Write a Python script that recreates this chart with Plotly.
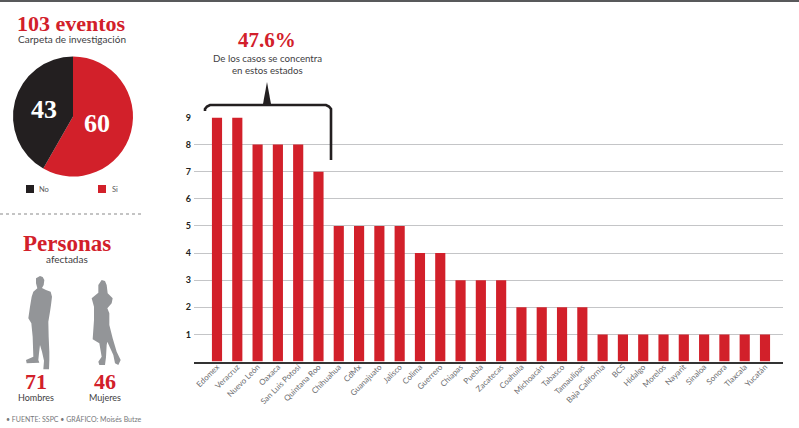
import plotly.graph_objects as go

W, H = 799, 428
states = ["Edomex","Veracruz","Nuevo León","Oaxaca","San Luis Potosí","Quintana Roo","Chihuahua","CdMx",
          "Guanajuato","Jalisco","Colima","Guerrero","Chiapas","Puebla","Zacatecas","Coahuila","Michoacán",
          "Tabasco","Tamaulipas","Baja California","BCS","Hidalgo","Morelos","Nayarit","Sinaloa","Sonora",
          "Tlaxcala","Yucatán"]
cases = [9,9,8,8,8,7,5,5,5,5,4,4,3,3,3,2,2,2,2,1,1,1,1,1,1,1,1,1]
pie_labels = ["Sí","No"]
pie_values = [60,43]
RED, BLACK, GRAY = "#d2202a", "#231f20", "#939598"
SERIF = "Liberation Serif"
SANS = "Lato"

def px(x): return x / W
def py(y): return 1 - y / H

fig = go.Figure()
fig.add_trace(go.Bar(x=list(range(28)), y=cases, marker=dict(color=RED, line_width=0), width=0.5,
                     hovertext=states, showlegend=False))
fig.add_trace(go.Pie(labels=pie_labels, values=pie_values, sort=False, direction="clockwise", rotation=0,
                     marker=dict(colors=[RED, BLACK], line_width=0), textinfo="none",
                     domain=dict(x=[px(13), px(133)], y=[py(177), py(56)]), showlegend=False))

spacing = (765 - 217) / 27
x0 = -(217 - 194) / spacing
x1 = (783 - 217) / spacing
fig.update_layout(
    width=W, height=H, margin=dict(l=0, r=0, t=0, b=0, autoexpand=False), paper_bgcolor="white", plot_bgcolor="white",
    bargap=0.5,
    xaxis=dict(domain=[px(194), px(783)], range=[x0, x1], tickmode="array", tickvals=list(range(28)),
               ticktext=states, tickangle=-45, tickfont=dict(family=SANS, size=8, color="#6d6e71"), automargin=False,
               ticklabelstandoff=-4, showgrid=False, zeroline=False, showline=True, linecolor="#333333", linewidth=1.5, ticks=""),
    yaxis=dict(domain=[py(361.5), py(117.5)], range=[0, 9], tickmode="array", tickvals=list(range(1, 10)), automargin=False,
               tickfont=dict(family=SANS, size=9, color=BLACK, weight="bold"), ticklabelstandoff=2,
               showgrid=True, gridcolor="#c4c5c7", gridwidth=1.2, zeroline=False, ticks="", showline=False),
)

def txt(x, y, s, size, color=BLACK, family=SANS, bold=False, anchor="center"):
    fig.add_annotation(xref="paper", yref="paper", x=px(x), y=py(y), text=s, showarrow=False, xanchor=anchor,
                       yanchor="middle", font=dict(family=family, size=size, color=color,
                                                   weight="bold" if bold else "normal"))

txt(71.5, 23.5, "103 eventos", 22, RED, SERIF, True)
txt(71.5, 39, "Carpeta de investigación", 10, "#414042")
txt(44, 110, str(pie_values[1]), 26, "white", SERIF, True)
txt(97, 124, str(pie_values[0]), 26, "white", SERIF, True)
txt(267, 40, "47.6%", 21, RED, SERIF, True)
txt(267, 58, "De los casos se concentra", 9.7, "#414042")
txt(267, 70, "en estos estados", 9.7, "#414042")
txt(67, 243, "Personas", 23, RED, SERIF, True)
txt(67, 259, "afectadas", 10, "#414042")
txt(36, 381, "71", 22, RED, SERIF, True)
txt(105, 381, "46", 22, RED, SERIF, True)
txt(36, 397, "Hombres", 9, "#414042")
txt(105, 397, "Mujeres", 9, "#414042")
txt(37, 189, "No", 7.5, "#58595b", anchor="left")
txt(110, 189, "Si", 7.5, "#58595b", anchor="left")
txt(4, 419, "• FUENTE: SSPC • GRÁFICO: Moisés Butze", 7, "#77787b", anchor="left")

def path(pts):
    return "M" + " L".join(f"{px(x):.5f},{py(y):.5f}" for x, y in pts) + " Z"

def shape(**kw):
    fig.add_shape(xref="paper", yref="paper", **kw)

shape(type="rect", x0=0, x1=1, y0=py(2), y1=1, fillcolor="#58595b", line_width=0)
shape(type="line", x0=0, x1=px(144), y0=py(214), y1=py(214), line=dict(color="#8a8a8a", width=1.2, dash="dot"))
shape(type="rect", x0=px(26), x1=px(34), y0=py(193), y1=py(185), fillcolor=BLACK, line_width=0)
shape(type="rect", x0=px(98), x1=px(106), y0=py(193), y1=py(185), fillcolor=RED, line_width=0)
# bracket
bracket = [(205,111),(205,109),(207,106.5),(210,105),(326,105),(329,106.5),(331,109),(331,160)]
fig.add_shape(type="path", xref="paper", yref="paper",
              path="M" + " L".join(f"{px(x):.5f},{py(y):.5f}" for x, y in bracket),
              line=dict(color=BLACK, width=2.6))
shape(type="path", path=path([(267,82),(263,104),(271,104)]), fillcolor=BLACK, line_width=0)

man = [(60,18),(68,21),(73,30),(71,45),(66,54),(78,60),(92,65),(96,80),(93,105),(90,125),(85,155),(86,200),(88,245),(88,270),(87,298),(70,298),(72,272),(66,245),(60,225),(57,250),(55,270),(58,278),(20,280),(18,270),(40,260),(38,200),(34,160),(25,145),(30,110),(35,80),(40,65),(52,55),(48,40),(48,25)]
woman = [(245,30),(255,33),(260,45),(263,70),(278,85),(275,100),(262,115),(268,130),(268,165),(278,205),(290,245),(302,270),(295,285),(285,280),(280,255),(262,215),(260,225),(258,262),(255,285),(238,285),(235,275),(245,260),(238,220),(218,208),(222,150),(222,110),(215,85),(235,68),(235,45)]
def zoomed(pts): return [(x / 3 + 20, y / 3 + 270) for x, y in pts]
shape(type="path", path=path(zoomed(man)), fillcolor=GRAY, line_width=0)
shape(type="path", path=path(zoomed(woman)), fillcolor=GRAY, line_width=0)

fig.write_html("out.html", config=dict(displayModeBar=False), post_script="document.body.style.margin='0';")
